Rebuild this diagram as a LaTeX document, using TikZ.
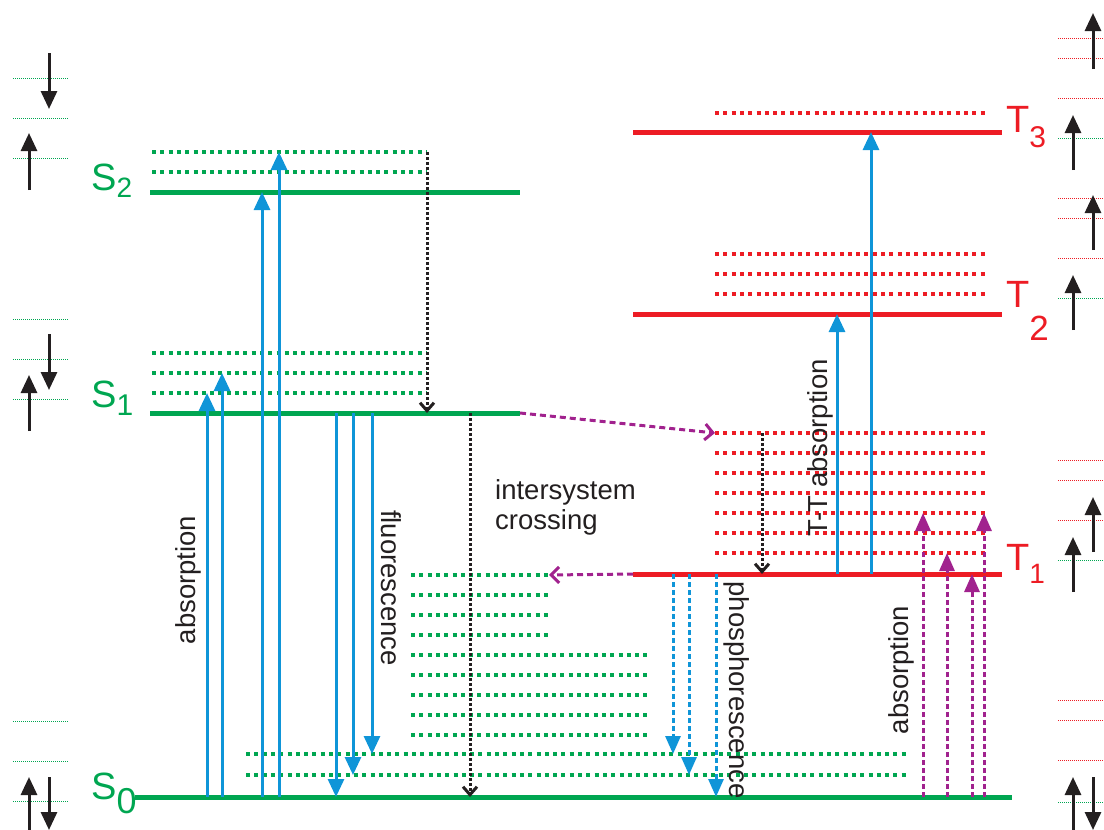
\documentclass[tikz,border=0pt]{standalone}
\usepackage{fontspec}
\setmainfont{Liberation Sans}
\usetikzlibrary{arrows.meta}

\definecolor{sgreen}{HTML}{00A651}
\definecolor{tred}{HTML}{ED1C24}
\definecolor{lblue}{HTML}{0F95D8}
\definecolor{dpurple}{HTML}{A1228E}
\definecolor{dgrey}{HTML}{231F20}

\newcommand{\lvlname}[4]{#1\raisebox{-#4pt}{\fontsize{#3}{#3}\selectfont #2}}

\begin{document}
\begin{tikzpicture}[x=1pt, y=-1pt,
    solidlvl/.style={line width=5pt},
    viblvl/.style={line width=4pt, dash pattern=on 4pt off 4.3pt},
    sidelvl/.style={line width=1pt, dash pattern=on 1pt off 1pt},
    absarr/.style={lblue, line width=3pt, -{Triangle[width=16pt,length=18pt]}},
    phosarr/.style={lblue, line width=3pt, dash pattern=on 5pt off 3pt, -{Triangle[width=15pt,length=18pt]}},
    purarr/.style={dpurple, line width=3pt, dash pattern=on 5pt off 3pt, -{Triangle[width=15pt,length=18pt]}},
    crossarr/.style={dpurple, line width=3pt, dash pattern=on 6pt off 4pt, -{Straight Barb[length=8pt,width=16pt]}},
    relaxarr/.style={dgrey, line width=3pt, dash pattern=on 2.5pt off 2.5pt, -{Straight Barb[length=8pt,width=14pt]}},
    spin/.style={dgrey, line width=3pt, -{Triangle[width=16pt,length=18pt]}},
    lvllabel/.style={font=\fontsize{38}{40}\selectfont, inner sep=0pt},
    txt/.style={dgrey, font=\fontsize{27.5}{30}\selectfont, inner sep=0pt}]
    \useasboundingbox (0,0) rectangle (1104,830);
    %
    % electronic levels
    \coordinate (S0) at (135,797); \coordinate (S0e) at (1012,797);
    \coordinate (S1) at (150,413); \coordinate (S1e) at (520,413);
    \coordinate (S2) at (150,192); \coordinate (S2e) at (520,192);
    \coordinate (T1) at (633,574); \coordinate (T1e) at (1002,574);
    \coordinate (T2) at (633,314); \coordinate (T2e) at (1002,314);
    \coordinate (T3) at (633,132); \coordinate (T3e) at (1002,132);
    %
    % vibrational levels
    \foreach \i/\y in {1/172,2/152} \draw[viblvl, sgreen] (152,\y) coordinate (s2v\i) -- (427,\y);
    \foreach \i/\y in {1/393,2/373,3/353} \draw[viblvl, sgreen] (152,\y) coordinate (s1v\i) -- (427,\y);
    \foreach \i/\y in {1/775,2/754} \draw[viblvl, sgreen] (246,\y) coordinate (s0v\i) -- (907,\y);
    \foreach \y in {735,715,695,675,655} \draw[viblvl, sgreen] (411,\y) -- (650,\y);
    \foreach \i/\y in {1/635,2/615,3/595,4/575} \draw[viblvl, sgreen] (411,\y) -- (549,\y) coordinate (s0h\i);
    \foreach \i/\y in {1/553,2/533,3/513,4/493,5/473,6/453,7/433} \draw[viblvl, tred] (715,\y) coordinate (t1v\i) -- (987,\y);
    \foreach \y in {294,274,254} \draw[viblvl, tred] (715,\y) -- (987,\y);
    \draw[viblvl, tred] (715,113) -- (987,113);
    %
    \draw[solidlvl, sgreen] (S0) -- (S0e);
    \draw[solidlvl, sgreen] (S1) -- (S1e);
    \draw[solidlvl, sgreen] (S2) -- (S2e);
    \draw[solidlvl, tred] (T1) -- (T1e);
    \draw[solidlvl, tred] (T2) -- (T2e);
    \draw[solidlvl, tred] (T3) -- (T3e);
    %
    \node[lvllabel, sgreen, anchor=base west] (S0lbl) at (91,799) {\lvlname{S}{0}{36}{14}};
    \node[lvllabel, sgreen, anchor=base west] (S1lbl) at (91,407) {\lvlname{S}{1}{30}{8}};
    \node[lvllabel, sgreen, anchor=base west] (S2lbl) at (91,190) {\lvlname{S}{2}{28}{7}};
    \node[lvllabel, tred, anchor=base west] (T1lbl) at (1006,570) {\lvlname{T}{1}{28}{13}};
    \node[lvllabel, tred, anchor=base west] (T2lbl) at (1006,307) {\lvlname{T}{2}{35}{33}};
    \node[lvllabel, tred, anchor=base west] (T3lbl) at (1006,132) {\lvlname{T}{3}{30}{15}};
    %
    % transitions
    \foreach \x/\a/\b in {207/S0/s1v1, 222/S0/s1v2, 262/S0/S2, 279/S0/s2v2,
        336/S1/S0, 353/S1/s0v1, 372/S1/s0v2, 837/T1/T2, 871/T1/T3}
        \draw[absarr] (\x,0 |- \a) -- (\x,0 |- \b);
    \foreach \x/\b in {673/s0v2, 689/s0v1, 716/S0}
        \draw[phosarr] (\x,0 |- T1) -- (\x,0 |- \b);
    \foreach \x/\b in {923/t1v3, 947/t1v1, 972/T1, 984/t1v3}
        \draw[purarr] (\x,0 |- S0) -- (\x,0 |- \b);
    \draw[relaxarr] (427,0 |- s2v2) -- (427,0 |- S1);
    \draw[relaxarr] (470,0 |- S1) -- (470,0 |- S0);
    \draw[relaxarr] (762,0 |- t1v7) -- (762,0 |- T1);
    \draw[crossarr] (S1e) -- (t1v7);
    \draw[crossarr] (T1) -- (s0h4);
    %
    \node[txt, rotate=90] (absS) at (188,580) {absorption};
    \node[txt, rotate=-90] (fluo) at (391,588) {fluorescence};
    \node[txt, align=left, anchor=north west] (isc) at (495,479) {intersystem\\crossing};
    \node[txt, rotate=90] (ttabs) at (820,448) {T-T absorption};
    \node[txt, rotate=-90] (phos) at (737,690) {phosphorescence};
    \node[txt, rotate=90] (absT) at (901,670) {absorption};
    %
    % spin pictures
    \foreach \y in {78,118,158,319,359,399,721,761,801} \draw[sidelvl, sgreen] (13,\y) -- (68,\y);
    \foreach \y in {138,298,560,802} \draw[sidelvl, sgreen] (1058,\y) -- (1104,\y);
    \foreach \y in {38,58,98,198,218,258,460,480,520,700,720,760} \draw[sidelvl, tred] (1058,\y) -- (1104,\y);
    \foreach \x/\a/\b in {49/53/109, 29/190/133, 49/334/390, 29/431/375, 29/830/777, 49/777/830,
        1093/69/13, 1073/170/115, 1093/250/195, 1073/330/275, 1093/552/497, 1073/592/537,
        1073/830/777, 1093/777/830}
        \draw[spin] (\x,\a) -- (\x,\b);
\end{tikzpicture}
\end{document}
